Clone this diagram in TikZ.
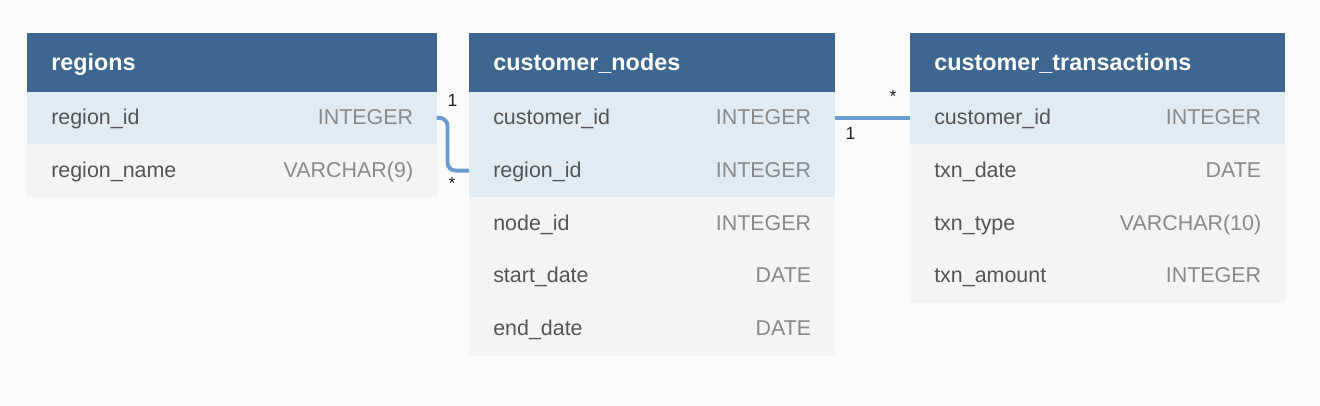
\documentclass[tikz,border=0pt]{standalone}
\usepackage{fontspec}
\setmainfont{Liberation Sans}
\usetikzlibrary{positioning}
\definecolor{hdrblue}{HTML}{3D6690}
\definecolor{keyblue}{HTML}{E1EBF3}
\definecolor{rowgray}{HTML}{F4F4F4}
\definecolor{bgwhite}{HTML}{FBFBFB}
\definecolor{namegray}{HTML}{555555}
\definecolor{typegray}{HTML}{8A8A8A}
\definecolor{relblue}{HTML}{6C9BD2}
\definecolor{cardblack}{HTML}{222222}

\begin{document}
\begin{tikzpicture}
\tikzset{hdr/.style={fill=hdrblue, draw=hdrblue, line width=0.3pt, text=white, font=\fontsize{13.3}{15}\selectfont\bfseries, inner xsep=0.48cm, inner ysep=0pt, minimum height=1.16cm, text height=0.42cm, text depth=0.1cm, align=left},
  keyrow/.style={fill=keyblue, draw=keyblue, line width=0.3pt, text=namegray, font=\fontsize{12.2}{14}\selectfont, inner xsep=0.48cm, inner ysep=0pt, minimum height=1.044cm, text height=0.37cm, text depth=0.1cm, align=left},
  plainrow/.style={keyrow, fill=rowgray, draw=rowgray},
  dtype/.style={text=typegray, font=\fontsize{12.2}{14}\selectfont, inner sep=0pt, anchor=base east},
  card/.style={text=cardblack, font=\fontsize{10}{12}\selectfont, inner sep=0pt},
  rel/.style={draw=relblue, line width=2.2pt}}
\fill[bgwhite] (0,0) rectangle (26.4,-8.12);
\useasboundingbox (0,0) rectangle (26.4,-8.12);
% regions
\node[hdr, text width=7.22cm, anchor=north west] (regions) at (0.54,-0.66) {regions};
\node[keyrow, text width=7.22cm, below=0pt of regions] (rid) {region\_id};
\node[plainrow, text width=7.22cm, below=0pt of rid] (rname) {region\_name};
\node[dtype] (ridT) at ([xshift=-0.46cm]rid.base east) {INTEGER};
\node[dtype] (rnameT) at ([xshift=-0.46cm]rname.base east) {VARCHAR(9)};
% customer_nodes
\node[hdr, text width=6.34cm, anchor=north west] (nodes) at (9.38,-0.66) {customer\_nodes};
\node[keyrow, text width=6.34cm, below=0pt of nodes] (ncid) {customer\_id};
\node[keyrow, text width=6.34cm, below=0pt of ncid] (nrid) {region\_id};
\node[plainrow, text width=6.34cm, below=0pt of nrid] (nnid) {node\_id};
\node[plainrow, text width=6.34cm, below=0pt of nnid] (nstart) {start\_date};
\node[plainrow, text width=6.34cm, below=0pt of nstart] (nend) {end\_date};
\node[dtype] (ncidT) at ([xshift=-0.46cm]ncid.base east) {INTEGER};
\node[dtype] (nridT) at ([xshift=-0.46cm]nrid.base east) {INTEGER};
\node[dtype] (nnidT) at ([xshift=-0.46cm]nnid.base east) {INTEGER};
\node[dtype] (nstartT) at ([xshift=-0.46cm]nstart.base east) {DATE};
\node[dtype] (nendT) at ([xshift=-0.46cm]nend.base east) {DATE};
% customer_transactions
\node[hdr, text width=6.52cm, anchor=north west] (txns) at (18.2,-0.66) {customer\_transactions};
\node[keyrow, text width=6.52cm, below=0pt of txns] (tcid) {customer\_id};
\node[plainrow, text width=6.52cm, below=0pt of tcid] (tdate) {txn\_date};
\node[plainrow, text width=6.52cm, below=0pt of tdate] (ttype) {txn\_type};
\node[plainrow, text width=6.52cm, below=0pt of ttype] (tamount) {txn\_amount};
\node[dtype] (tcidT) at ([xshift=-0.46cm]tcid.base east) {INTEGER};
\node[dtype] (tdateT) at ([xshift=-0.46cm]tdate.base east) {DATE};
\node[dtype] (ttypeT) at ([xshift=-0.46cm]ttype.base east) {VARCHAR(10)};
\node[dtype] (tamountT) at ([xshift=-0.46cm]tamount.base east) {INTEGER};
% relations
\draw[rel, rounded corners=0.16cm] (rid.east) -- ++(0.22,0) |- (nrid.west);
\draw[rel] (ncid.east) -- (tcid.west);
\node[card] (one1) at ([xshift=0.32cm,yshift=0.34cm]rid.east) {1};
\node[card] (many1) at ([xshift=-0.34cm,yshift=-0.26cm]nrid.west) {*};
\node[card] (one2) at ([xshift=0.32cm,yshift=-0.32cm]ncid.east) {1};
\node[card] (many2) at ([xshift=-0.34cm,yshift=0.42cm]tcid.west) {*};
\end{tikzpicture}
\end{document}
